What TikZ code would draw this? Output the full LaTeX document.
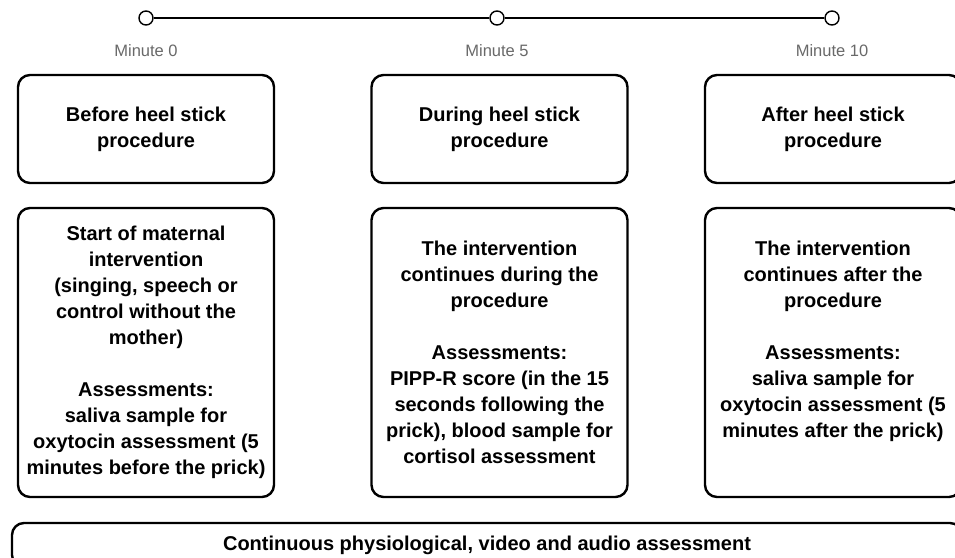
\documentclass[tikz,border=0pt]{standalone}
\usepackage{fontspec}
\setmainfont{Liberation Sans}
\definecolor{labelgray}{RGB}{105,105,105}
\begin{document}
\begin{tikzpicture}[x=1pt,y=-1pt,
  tick/.style={circle,draw=black,fill=white,line width=1.4pt,minimum size=14pt,inner sep=0pt},
  minlabel/.style={text=labelgray,font=\fontsize{16.5}{20}\selectfont},
  stagebox/.style={draw=black,line width=2.4pt,rounded corners=12pt,inner sep=0pt,
     align=center,font=\fontsize{20}{26}\selectfont\bfseries,minimum width=256pt},
  topbox/.style={stagebox,minimum height=108pt},
  lowbox/.style={stagebox,minimum height=289pt},
  timeline/.style={line width=1.4pt,draw=black}]
\useasboundingbox (0,0) rectangle (955,557);
% timeline
\node[tick] (c1) at (146,18) {};
\node[tick] (c2) at (497,18) {};
\node[tick] (c3) at (832,18) {};
\draw[timeline] (c1) -- (c2);
\draw[timeline] (c2) -- (c3);
\node[minlabel] (m1) at (146,51) {Minute 0};
\node[minlabel] (m2) at (497,51) {Minute 5};
\node[minlabel] (m3) at (832,51) {Minute 10};
% top boxes
\node[topbox] (t1) at (146,129) {Before heel stick\\procedure};
\node[topbox] (t2) at (499.5,129) {During heel stick\\procedure};
\node[topbox] (t3) at (833,129) {After heel stick\\procedure};
% lower boxes
\node[lowbox] (l1) at (146,352.5) {Start of maternal\\intervention\\(singing, speech or\\control without the\\mother)\\[26pt]Assessments:\\saliva sample for\\oxytocin assessment (5\\minutes before the prick)};
\node[lowbox] (l2) at (499.5,352.5) {The intervention\\continues during the\\procedure\\[26pt]Assessments:\\PIPP-R score (in the 15\\seconds following the\\prick), blood sample for\\cortisol assessment};
\node[lowbox] (l3) at (833,352.5) {The intervention\\continues after the\\procedure\\[26pt]Assessments:\\saliva sample for\\oxytocin assessment (5\\minutes after the prick)\\\mbox{}};
% bottom box
\node[stagebox,minimum width=950pt,minimum height=44pt] (b) at (487,545) {Continuous physiological, video and audio assessment};
\end{tikzpicture}
\end{document}
